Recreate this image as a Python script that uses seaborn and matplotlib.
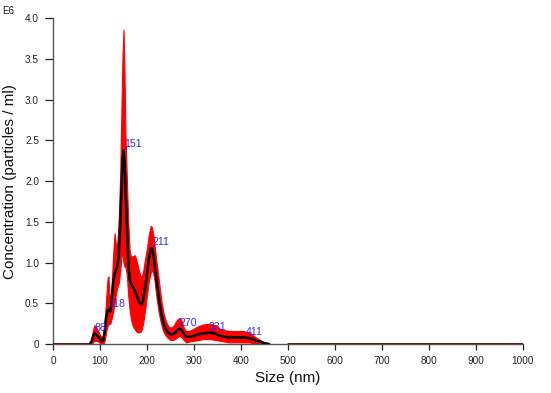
import matplotlib
matplotlib.use("Agg")
import matplotlib.pyplot as plt
import seaborn as sns
import numpy as np
import pandas as pd

# ---- data (concentration in units of 1E6 particles/ml) ----
sizes = [78, 82, 85, 88, 92, 96, 100, 104, 107, 110, 113, 116, 118, 120, 122, 125,
         128, 131, 134, 137, 140, 143, 146, 148, 150, 152, 154, 157, 160, 163, 166,
         170, 174, 178, 182, 186, 189, 192, 196, 200, 204, 208, 210, 213, 216, 220,
         224, 228, 232, 236, 240, 245, 250, 256, 262, 266, 270, 274, 278, 283, 290,
         300, 310, 320, 334, 345, 355, 365, 375, 385, 395, 405, 411, 418, 425, 432,
         440, 450, 460]
mean = [0.00, 0.03, 0.09, 0.13, 0.12, 0.09, 0.06, 0.03, 0.05, 0.15, 0.33, 0.40, 0.42, 0.41, 0.40, 0.55,
        0.75, 0.86, 0.91, 0.95, 1.10, 1.45, 1.95, 2.25, 2.38, 2.25, 1.95, 1.50, 1.05, 0.80, 0.74,
        0.70, 0.66, 0.60, 0.53, 0.49, 0.49, 0.55, 0.70, 0.86, 1.05, 1.16, 1.18, 1.12, 1.00, 0.80,
        0.62, 0.46, 0.33, 0.24, 0.18, 0.14, 0.12, 0.12, 0.15, 0.18, 0.19, 0.17, 0.13, 0.09, 0.09,
        0.10, 0.12, 0.13, 0.14, 0.13, 0.10, 0.09, 0.08, 0.08, 0.08, 0.08, 0.08, 0.07, 0.06, 0.04,
        0.03, 0.01, 0.00]
lower = [0.00, 0.00, 0.02, 0.04, 0.04, 0.03, 0.01, 0.00, 0.00, 0.04, 0.15, 0.22, 0.24, 0.25, 0.25, 0.32,
         0.40, 0.50, 0.62, 0.70, 0.75, 0.90, 1.10, 1.10, 1.00, 0.95, 0.95, 0.85, 0.60, 0.42, 0.30,
         0.22, 0.18, 0.15, 0.14, 0.15, 0.18, 0.26, 0.42, 0.60, 0.78, 0.88, 0.90, 0.88, 0.78, 0.58,
         0.42, 0.30, 0.20, 0.14, 0.10, 0.07, 0.05, 0.05, 0.07, 0.09, 0.10, 0.08, 0.05, 0.02, 0.03,
         0.04, 0.05, 0.06, 0.06, 0.05, 0.04, 0.03, 0.02, 0.02, 0.02, 0.02, 0.02, 0.02, 0.01, 0.00,
         0.00, 0.00, 0.00]
upper = [0.00, 0.06, 0.17, 0.23, 0.21, 0.16, 0.11, 0.08, 0.12, 0.28, 0.55, 0.80, 0.83, 0.62, 0.52, 0.75,
         1.10, 1.36, 1.20, 1.25, 1.55, 2.10, 3.00, 3.55, 3.86, 3.40, 2.60, 2.05, 1.50, 1.15, 1.07,
         1.08, 1.09, 1.02, 0.92, 0.84, 0.82, 0.90, 1.05, 1.18, 1.35, 1.45, 1.44, 1.36, 1.22, 1.02,
         0.84, 0.64, 0.48, 0.36, 0.28, 0.22, 0.20, 0.22, 0.28, 0.31, 0.32, 0.28, 0.20, 0.16, 0.16,
         0.19, 0.22, 0.24, 0.25, 0.23, 0.19, 0.17, 0.16, 0.16, 0.16, 0.16, 0.15, 0.14, 0.11, 0.08,
         0.05, 0.02, 0.00]

peak_sizes = [88, 118, 151, 211, 270, 331, 411]
peak_values = [0.13, 0.42, 2.38, 1.18, 0.19, 0.14, 0.08]
peak_labels = ["88", "118", "151", "211", "270", "331", "411"]

zero_left = [0, 78]
zero_right = [500, 1000]

x_ticks = [0, 100, 200, 300, 400, 500, 600, 700, 800, 900, 1000]
y_ticks = [0, 0.5, 1.0, 1.5, 2.0, 2.5, 3.0, 3.5, 4.0]
y_tick_labels = ["0", "0.5", "1.0", "1.5", "2.0", "2.5", "3.0", "3.5", "4.0"]

# ---- plot ----
sns.set_style("ticks")
plt.rcParams["font.family"] = ["Liberation Sans", "DejaVu Sans"]

fig = plt.figure(figsize=(5.51, 3.93), dpi=100)
ax = fig.add_axes([53 / 551, 1 - 344 / 393, (523 - 53) / 551, (344 - 18.3) / 393])

df = pd.DataFrame({"size": sizes, "mean": mean, "lower": lower, "upper": upper})

ax.fill_between(df["size"], df["lower"], df["upper"], color="#ff0000", linewidth=0.8,
                edgecolor="#ff0000", zorder=2)
sns.lineplot(data=df, x="size", y="mean", color="black", linewidth=1.8, ax=ax, zorder=3)

for seg in (zero_left, zero_right):
    sns.lineplot(x=seg, y=[0, 0], color="#5c0000", linewidth=2.0, ax=ax, zorder=4)

for s, v, lab in zip(peak_sizes, peak_values, peak_labels):
    ax.text(s, v + 0.01, lab, color="#2a2aff", fontsize=7.6, ha="left", va="bottom", zorder=5)

ax.set_xlim(0, 1000)
ax.set_ylim(0, 4.0)
ax.set_xticks(x_ticks)
ax.set_yticks(y_ticks)
ax.set_yticklabels(y_tick_labels)
ax.tick_params(axis="both", labelsize=7.2, colors="#222222", length=4.5, width=0.9, pad=4)
ax.tick_params(axis="y", length=6)
for sp in ("top", "right"):
    ax.spines[sp].set_visible(False)
for sp in ("left", "bottom"):
    ax.spines[sp].set_color("#555555")
    ax.spines[sp].set_linewidth(1.0)

ax.set_xlabel("Size (nm)", fontsize=11, labelpad=4, color="#111111")
ax.set_ylabel("Concentration (particles / ml)", fontsize=11, labelpad=6, color="#111111")

fig.text(2 / 551, 1 - 11 / 393, "E6", fontsize=7, ha="left", va="center", color="#222222")

fig.savefig("out.png", dpi=100)
